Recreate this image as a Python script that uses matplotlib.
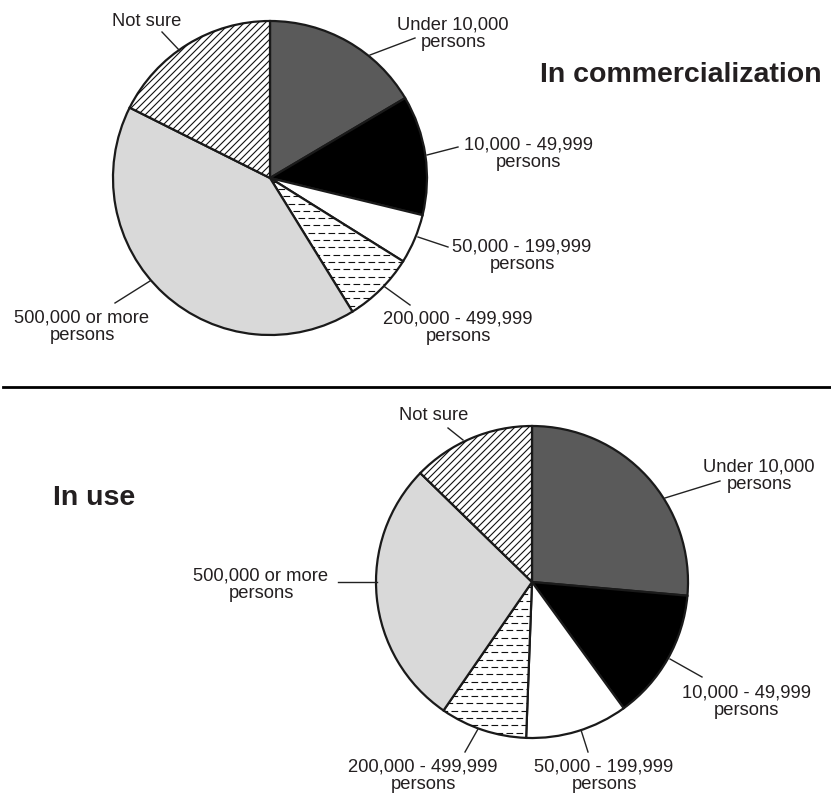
import numpy as np
import matplotlib
matplotlib.use("Agg")
import matplotlib.pyplot as plt

plt.rcParams['font.family'] = ['Liberation Sans', 'DejaVu Sans']

# slice order: clockwise from 12 o'clock
labels = ["Under 10,000\npersons", "10,000 - 49,999\npersons",
          "50,000 - 199,999\npersons", "200,000 - 499,999\npersons",
          "500,000 or more\npersons", "Not sure"]
commercialization = [16.5, 12.3, 5.1, 7.3, 41.2, 17.6]
in_use = [26.4, 13.6, 10.6, 9.0, 27.7, 12.7]

colors = ['#5a5a5a', '#000000', '#ffffff', '#ffffff', '#d9d9d9', '#ffffff']
TXT = '#231f20'

fig = plt.figure(figsize=(8.31, 7.95), dpi=100)
ax = fig.add_axes([0, 0, 1, 1])


def draw_pie(values, center, radius):
    wedges, _ = ax.pie(values, colors=colors, startangle=-90, counterclock=True,
                       center=center, radius=radius, frame=True,
                       wedgeprops=dict(edgecolor='#1a1a1a', linewidth=1.6))
    cx, cy = center
    # dashed horizontal fill for the 200,000 - 499,999 slice
    for i, y in enumerate(np.arange(cy - radius, cy + radius, 7.3)):
        ln, = ax.plot([cx - radius, cx + radius], [y, y], color='#111111', lw=0.8,
                      linestyle=((i % 2) * 4.5, (6, 3)))
        ln.set_clip_path(wedges[3])
    # diagonal hatch for "Not sure"
    for k in np.arange(cx + cy - 2 * radius, cx + cy + 2 * radius, 7.0):
        ln, = ax.plot([cx - radius, cx + radius], [k - (cx - radius), k - (cx + radius)],
                      color='#111111', lw=0.8)
        ln.set_clip_path(wedges[5])
    for w in wedges:
        w.set_zorder(1)
    return wedges


def label(text, pos, line):
    ax.text(pos[0], pos[1], text, ha='center', va='center', fontsize=13.2,
            color=TXT, linespacing=1.05)
    ax.plot([line[0], line[2]], [line[1], line[3]], color='#222222', lw=1.0)


draw_pie(commercialization, (270, 178), 157)
draw_pie(in_use, (532, 582), 156)

# top pie labels
top_pos = [(453, 34), (528, 154), (522, 256), (458, 328), (82, 327), (147, 21)]
top_lines = [(370, 55, 415, 38), (427, 155, 458, 147), (418, 237, 448, 247),
             (385, 287, 410, 305), (150, 281, 115, 303), (180, 51, 162, 32)]
for t, p, l in zip(labels, top_pos, top_lines):
    label(t, p, l)

# bottom pie labels
bot_pos = [(759, 476), (746, 702), (604, 776), (423, 776), (261, 585), (434, 416)]
bot_lines = [(665, 498, 720, 481), (670, 659, 702, 677), (581, 730, 588, 752),
             (478, 729, 465, 752), (377, 582, 338, 582), (463, 440, 448, 428)]
for t, p, l in zip(labels, bot_pos, bot_lines):
    label(t, p, l)

ax.text(681, 75, "In commercialization", ha='center', va='center', fontsize=20.5,
        fontweight='bold', color=TXT)
ax.text(94, 498, "In use", ha='center', va='center', fontsize=20.5,
        fontweight='bold', color=TXT)

# separator between the two panels
ax.plot([3, 831], [387, 387], color='#000000', lw=2.0)

ax.set_xlim(0, 831)
ax.set_ylim(795, 0)
ax.set_aspect('equal')
ax.axis('off')

fig.savefig('out.png', dpi=100, facecolor='white')
